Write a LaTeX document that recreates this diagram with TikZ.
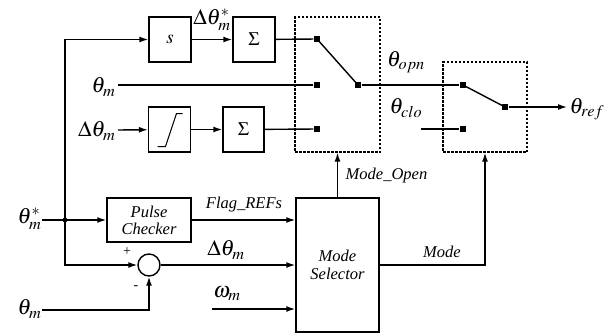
\documentclass[tikz,border=0pt]{standalone}
\usepackage{mathptmx}
\usepackage{fontspec}
\setmainfont{Liberation Serif}
\usetikzlibrary{arrows.meta}
\begin{document}
\begin{tikzpicture}[x=1pt,y=-1pt,line width=1.4pt,
  >={Latex[length=9pt,width=6pt]},
  blk/.style={draw,minimum width=42pt,minimum height=45pt,inner sep=0pt,font=\fontsize{19}{20}\selectfont},
  term/.style={fill,minimum size=6pt,inner sep=0pt},
  dbox/.style={draw,dash pattern=on 2.5pt off 1.5pt,line width=1.3pt,inner sep=0pt},
  lbl/.style={font=\fontsize{22}{24}\selectfont,inner sep=0pt},
  txt/.style={font=\fontsize{16.5}{19}\selectfont\itshape,inner sep=0pt,align=center}]
\useasboundingbox (0,0) rectangle (608,335);
% blocks
\node[blk] (s) at (170,39.5) {$s$};
\node[blk] (sig1) at (254,39.5) {$\Sigma$};
\node[blk] (sat) at (169.5,129.5) {};
\draw[line width=1pt] ([shift={(-12,17)}]sat.center) -- ++(8,0) -- ++(11,-33) -- ++(6,0);
\node[blk,minimum width=41pt] (sig2) at (243.5,129.5) {$\Sigma$};
% switches
\node[dbox,minimum width=85pt,minimum height=135pt] (sw1) at (337.5,84.5) {};
\node[dbox,minimum width=84pt,minimum height=90pt] (sw2) at (485,107) {};
\node[term] (a1) at (317,39) {};
\node[term] (a2) at (317,85) {};
\node[term] (a3) at (317,129) {};
\node[term] (a4) at (358,85) {};
\node[term] (b1) at (463,85) {};
\node[term] (b2) at (463,129) {};
\node[term] (b3) at (505,107) {};
% lower blocks
\node[draw,txt,minimum width=84pt,minimum height=44pt] (pc) at (149,220) {Pulse\\[-2pt]Checker};
\node[draw,txt,minimum width=83pt,minimum height=134pt] (ms) at (337.5,265) {Mode\\[-1pt]Selector};
\node[draw,circle,minimum size=22pt,inner sep=0pt] (sum) at (149,265) {};
% labels
\node[lbl,anchor=east] (thstar) at (42,219) {$\theta_m^*$};
\node[lbl,anchor=east] (thm2) at (42,309) {$\theta_m$};
\node[lbl,anchor=east] at (116,87) {$\theta_m$};
\node[lbl,anchor=east] at (116,131) {$\Delta\theta_m$};
\node[lbl] at (212,20) {$\Delta\theta_m^*$};
\node[lbl] at (406,62) {$\theta_{opn}$};
\node[lbl] at (406,108) {$\theta_{clo}$};
\node[lbl,anchor=west] at (569,109) {$\theta_{ref}$};
\node[txt] at (244,205) {Flag\_REFs};
\node[lbl] at (226,250) {$\Delta\theta_m$};
\node[lbl] at (227,294) {$\omega_m$};
\node[txt,anchor=west] at (345,176) {Mode\_Open};
\node[txt] at (442,252) {Mode};
\node[font=\fontsize{14}{16}\selectfont] at (127,252) {+};
\node[font=\fontsize{14}{16}\selectfont] at (136,288) {-};
% coordinates
\coordinate (j) at (65,220);
\coordinate (in1) at (118,85);
\coordinate (in2) at (118,130);
\coordinate (clo) at (421,129);
\coordinate (w) at (212,309);
\coordinate (ref) at (567,107);
% connectors
\draw (thstar.east |- j) -- (j);
\fill (j) circle (2.4pt);
\draw[->] (j) |- (s);
\draw[->] (j) -- (pc);
\draw[->] (j) |- (sum);
\draw[->] (thm2.east |- 0,310) -| (sum);
\draw[->] (s) -- (sig1);
\draw (sig1) -- (a1);
\draw (in1) -- (a2);
\draw[->] (in2) -- (sat);
\draw[->] (sat) -- (sig2);
\draw (sig2) -- (a3);
\draw (a1.center) -- (a4.center);
\draw (a4) -- (b1);
\draw (b1.center) -- (b3.center);
\draw (clo) -- (b2);
\draw[->] (b3) -- (ref);
\draw[->] (pc) -- (pc -| ms.west);
\draw[->] (sum) -- (sum -| ms.west);
\draw[->] (w) -- (w -| ms.west);
\draw[->] (ms.north) -- (sw1.south);
\draw[->] (ms.east) -| (sw2.south);
\end{tikzpicture}
\end{document}
